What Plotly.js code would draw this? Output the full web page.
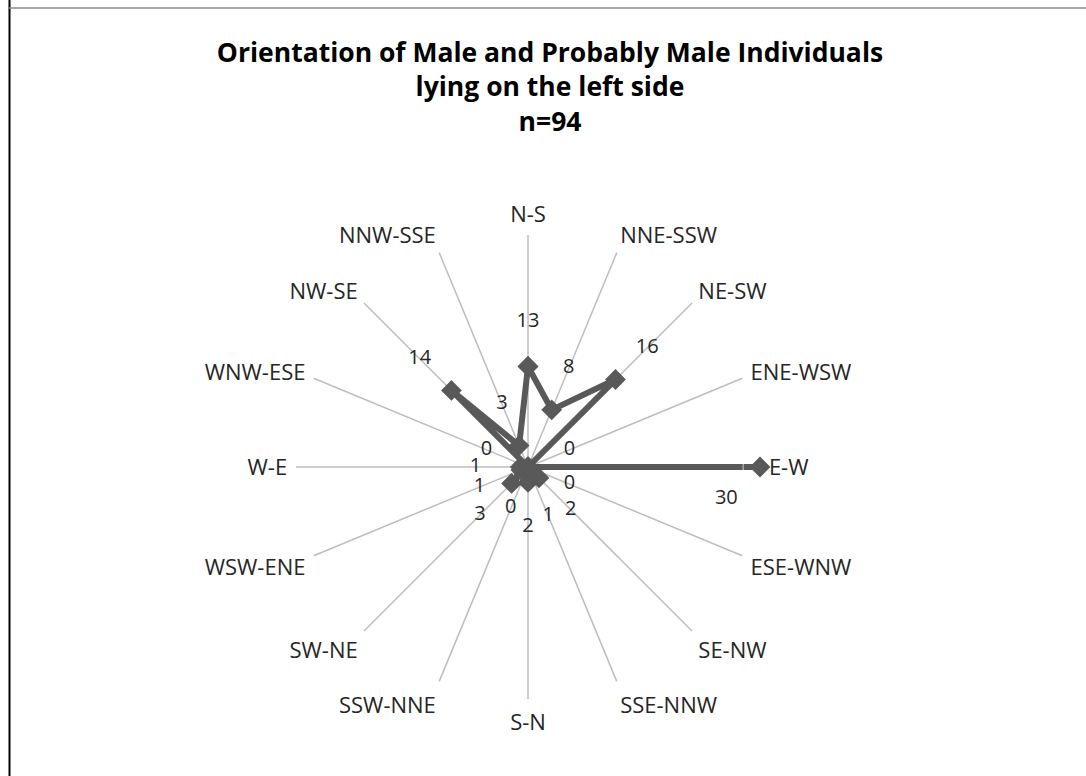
<!DOCTYPE html>
<html>
<head>
<meta charset="utf-8">
<script src="https://cdn.plot.ly/plotly-3.0.1.min.js"></script>
<style>html,body{margin:0;padding:0;background:#fff;}#chart{width:1086px;height:776px;}</style>
</head>
<body>
<div id="chart"></div>
<script>
const categories = ["N-S","NNE-SSW","NE-SW","ENE-WSW","E-W","ESE-WNW","SE-NW","SSE-NNW","S-N","SSW-NNE","SW-NE","WSW-ENE","W-E","WNW-ESE","NW-SE","NNW-SSE"];
const counts = [13, 8, 16, 0, 30, 0, 2, 1, 2, 0, 3, 1, 1, 0, 14, 3];
const titleLines = ["Orientation of Male and Probably Male Individuals", "lying on the left side", "n=94"];

const rMax = 30;
const labelOffset = 5.8; // label distance outward from the point, in radial units

const thetaClosed = categories.concat([categories[0]]);
const rClosed = counts.concat([counts[0]]);

// labels sit outward along the spoke; a label that would leave the plot sits below-left of its point
const overflow = counts.map(v => v + labelOffset > rMax);
const labelR = counts.map((v, i) => (overflow[i] ? v : v + labelOffset));
const labelPos = counts.map((v, i) => (overflow[i] ? "bottom left" : "middle center"));
const labelPad = counts.map((v, i) => (overflow[i] ? 34 : 0));

const font = "'Open Sans', 'Liberation Sans', sans-serif";

const traces = [
  {
    type: "scatterpolar",
    r: rClosed,
    theta: thetaClosed,
    mode: "lines+markers",
    line: {color: "#595959", width: 6},
    marker: {symbol: "diamond", size: 16, color: "#595959"},
    hoverinfo: "skip",
    showlegend: false
  },
  {
    type: "scatterpolar",
    r: labelR,
    theta: categories,
    mode: "markers+text",
    marker: {size: labelPad, color: "rgba(0,0,0,0)"},
    text: counts.map(String),
    textposition: labelPos,
    textfont: {family: font, size: 20, color: "#262626"},
    cliponaxis: false,
    hoverinfo: "skip",
    showlegend: false
  }
];

const W = 1086, H = 776, cx = 528, cy = 467, rad = 232;
const layout = {
  width: W, height: H,
  margin: {l: 0, r: 0, t: 0, b: 0},
  paper_bgcolor: "#ffffff",
  showlegend: false,
  title: {
    text: titleLines.join("<br>"),
    x: 550 / W, xanchor: "center",
    y: 1 - 62 / H, yanchor: "top",
    font: {family: font, size: 26.5, color: "#000000", weight: "bold"}
  },
  polar: {
    domain: {x: [(cx - rad) / W, (cx + rad) / W], y: [(H - cy - rad) / H, (H - cy + rad) / H]},
    bgcolor: "rgba(0,0,0,0)",
    radialaxis: {visible: false, range: [0, rMax], showgrid: false, showline: false},
    angularaxis: {
      type: "category",
      direction: "clockwise",
      rotation: 90,
      showgrid: true,
      gridcolor: "#bdbdbd",
      gridwidth: 1.5,
      showline: false,
      ticks: "outside",
      ticklen: 4,
      tickcolor: "rgba(0,0,0,0)",
      tickfont: {family: font, size: 22, color: "#262626"}
    }
  },
  shapes: [
    {type: "line", xref: "paper", yref: "paper", x0: 9.5 / W, x1: 9.5 / W, y0: 0, y1: 1, line: {color: "#000000", width: 2}},
    {type: "line", xref: "paper", yref: "paper", x0: 9 / W, x1: 1, y0: 1 - 8 / H, y1: 1 - 8 / H, line: {color: "#888888", width: 1.5}}
  ]
};

Plotly.newPlot("chart", traces, layout, {displayModeBar: false, staticPlot: true});
</script>
</body>
</html>
